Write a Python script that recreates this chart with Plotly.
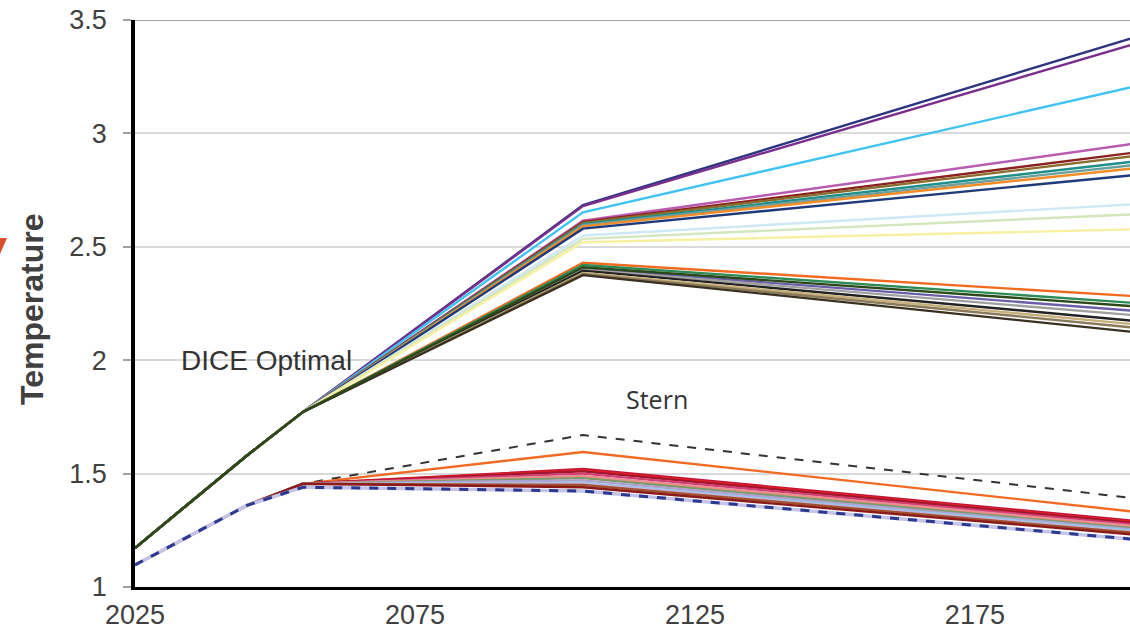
import plotly.graph_objects as go

years = [2025, 2045, 2055, 2105, 2205]

# DICE Optimal bundle: common early path, then values at 2105 and 2205
dice_early = [1.172, 1.58, 1.772]
dice_2105 = [2.684, 2.680, 2.652, 2.615, 2.610, 2.605, 2.600, 2.595, 2.590, 2.580,
             2.550, 2.535, 2.520,
             2.430, 2.420, 2.405, 2.400, 2.395, 2.385, 2.380, 2.375, 2.410]
dice_2205 = [3.435, 3.405, 3.215, 2.960, 2.920, 2.905, 2.880, 2.865, 2.850, 2.820,
             2.690, 2.645, 2.578,
             2.280, 2.250, 2.215, 2.195, 2.170, 2.155, 2.140, 2.120, 2.235]
dice_colors = ["#2e3580", "#7b2d8e", "#3ec3f2", "#b85cb0", "#8b2020", "#8a6d2f",
               "#1f8f8a", "#6aa0a0", "#f28c28", "#1f3a7a",
               "#cfe8f5", "#d3e6bd", "#f7f0a0",
               "#f06a20", "#2e8b57", "#6a5fa8", "#a0a0a0", "#222222", "#c8b07a",
               "#8a7a5a", "#3a3020", "#2a4a1a"]

# Stern bundle
stern_early = [1.097, 1.36, 1.455]
stern_2105 = [1.670, 1.595, 1.520, 1.515, 1.510, 1.500, 1.490, 1.485, 1.480,
              1.470, 1.460, 1.455, 1.450, 1.440]
stern_2205 = [1.387, 1.328, 1.288, 1.283, 1.278, 1.272, 1.265, 1.260, 1.255,
              1.250, 1.245, 1.240, 1.235, 1.228]
stern_colors = ["#333333", "#f26a21", "#c0143c", "#e02020", "#a01530", "#d04070",
                "#e88aa0", "#f09080", "#7a9a6a", "#b0a0d0", "#8fc8e0", "#c8b0e0",
                "#a0522d", "#8b1a1a"]
stern_lowest = [1.097, 1.36, 1.440, 1.423, 1.207]

y_ticks = [1, 1.5, 2, 2.5, 3, 3.5]
y_tick_text = ["1", "1.5", "2", "2.5", "3", "3.5"]
x_ticks = [2025, 2075, 2125, 2175]
x_tick_text = ["2025", "2075", "2125", "2175"]

fig = go.Figure()

for i in range(len(dice_2105)):
    fig.add_trace(go.Scatter(
        x=years, y=dice_early + [dice_2105[i], dice_2205[i]],
        mode="lines", line=dict(color=dice_colors[i], width=2.4),
        hoverinfo="skip", showlegend=False))

for i in range(len(stern_2105)):
    fig.add_trace(go.Scatter(
        x=years, y=stern_early + [stern_2105[i], stern_2205[i]],
        mode="lines",
        line=dict(color=stern_colors[i], width=2.4 if i else 2,
                  dash="dash" if i == 0 else "solid"),
        hoverinfo="skip", showlegend=False))

fig.add_trace(go.Scatter(x=years, y=stern_lowest, mode="lines",
                         line=dict(color="#c4c4e6", width=3.5),
                         hoverinfo="skip", showlegend=False))
fig.add_trace(go.Scatter(x=years, y=stern_lowest, mode="lines",
                         line=dict(color="#2b3990", width=3, dash="dash"),
                         hoverinfo="skip", showlegend=False))

tick_font = dict(family="Liberation Sans, Arial, sans-serif", size=27, color="#404040")

fig.update_layout(
    width=1130, height=635,
    margin=dict(l=135, r=0, t=20, b=48),
    paper_bgcolor="white", plot_bgcolor="white",
    xaxis=dict(range=[2025, 2202.7], tickvals=x_ticks, ticktext=x_tick_text,
               showgrid=False, zeroline=False, showline=True, linecolor="black",
               linewidth=2.5, ticks="", tickfont=tick_font, ticklabelstandoff=2),
    yaxis=dict(range=[1, 3.5], tickvals=y_ticks, ticktext=y_tick_text,
               showgrid=True, gridcolor="#d9d9d9", gridwidth=1.5, zeroline=False,
               showline=True, linecolor="black", linewidth=3.5,
               ticks="outside", ticklen=8, tickcolor="#a0a0a0", tickwidth=1.5,
               tickfont=tick_font, ticklabelstandoff=11, ticklabeloverflow="allow"),
    shapes=[
        dict(type="line", xref="paper", yref="y", x0=0, x1=1, y0=3.5, y1=3.5,
             line=dict(color="#a6a6a6", width=2)),
        dict(type="path", xref="paper", yref="paper",
             path="M %f %f L %f %f L %f %f Z" % (
                 (0 - 135) / 995, (587 - 238) / 567,
                 (7 - 135) / 995, (587 - 238) / 567,
                 (0 - 135) / 995, (587 - 254) / 567),
             fillcolor="#d9502a", line=dict(width=0)),
    ],
    annotations=[
        dict(text="<b>Temperature</b>", textangle=-90, xref="paper", yref="paper",
             x=(32 - 135) / 995, y=(587 - 310) / 567, showarrow=False,
             xanchor="center", yanchor="middle",
             font=dict(family="Liberation Sans, Arial, sans-serif", size=32, color="#404040")),
        dict(text="DICE Optimal", xref="x", yref="y", x=2048.5, y=2.0,
             showarrow=False, xanchor="center", yanchor="middle",
             font=dict(family="Liberation Sans, Arial, sans-serif", size=28, color="#333333")),
        dict(text="Stern", xref="x", yref="y", x=2118.2, y=1.83,
             showarrow=False, xanchor="center", yanchor="middle",
             font=dict(family="Open Sans, sans-serif", size=25, color="#333333")),
    ],
)

fig.write_html("out.html", config={"displayModeBar": False},
               post_script="document.body.style.margin='0px';")
